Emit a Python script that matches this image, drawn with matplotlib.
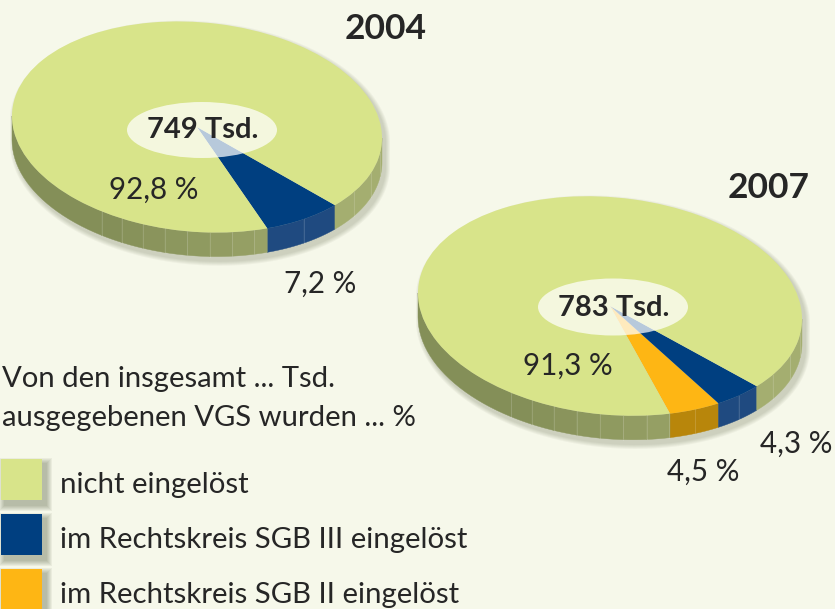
import numpy as np
import matplotlib
matplotlib.use("Agg")
import matplotlib.pyplot as plt
from matplotlib.patches import Ellipse, Rectangle, Polygon
from matplotlib.transforms import Affine2D

# data
shares_2004 = [7.2, 92.8]
shares_2007 = [4.5, 4.3, 91.3]
labels_2004 = ["7,2 %", "92,8 %"]
labels_2007 = ["4,5 %", "4,3 %", "91,3 %"]
total_2004 = "749 Tsd."
total_2007 = "783 Tsd."
legend_labels = ["nicht eingelöst", "im Rechtskreis SGB III eingelöst",
                 "im Rechtskreis SGB II eingelöst"]
intro_lines = ["Von den insgesamt ... Tsd.", "ausgegebenen VGS wurden ... %"]

W, H = 835, 609
BG = "#f6f8ea"
GREEN, BLUE, ORANGE = "#d8e48a", "#003f80", "#feb614"
WALL = {GREEN: None, BLUE: "#1f4a80", ORANGE: "#b8860b"}
INK = "#262626"
FONT = "Lato"

plt.rcParams["font.family"] = [FONT, "DejaVu Sans"]
fig = plt.figure(figsize=(W / 100, H / 100), dpi=100, facecolor=BG)
PAD = 1.35


def green_wall(angle):
    # wall gets lighter toward the right
    a = np.array([0x84, 0x8f, 0x58])
    b = np.array([0xa4, 0xae, 0x70])
    c = a + (b - a) * np.clip((angle + 122) / 80, 0, 1)
    return "#%02x%02x%02x" % tuple(int(v) for v in c)


def wall_edges(lo, hi, col):
    if col != GREEN:
        return np.linspace(lo, hi, 3)
    # the far left of the wall is one smooth piece, facets start further round
    inner = np.r_[np.arange(-121, -60, 7.0), np.arange(-32, 0, 12.0)]
    inner = inner[(inner > lo) & (inner < hi)]
    return np.r_[lo, inner, hi]


def draw_pie(cx, cy, rx, ry, tilt, depth, shares, colors, start, hub):
    ax = fig.add_axes([(cx - rx * PAD) / W, 1 - (cy + ry * PAD) / H,
                       2 * rx * PAD / W, 2 * ry * PAD / H])
    ax.patch.set_alpha(0)
    d = depth / ry
    # the disc is slightly rotated in the picture: low on the right
    shear = Affine2D.from_values(1, -tilt / ry, 0, 1, 0, 0)
    tr = shear + ax.transData

    # shadow, stacked translucent outlines of disc plus wall
    t = np.radians(np.linspace(-180, 180, 181))
    for g in [5, 4, 3, 2, 1]:
        sx = 1 + g / rx
        sy = 1 + g / ry
        yy = np.where(t < 0, np.sin(t) * sy - d, np.sin(t) * sy)
        pts = np.c_[np.cos(t) * sx + 3 / rx, yy - 4 / ry]
        ax.add_patch(Polygon(pts, closed=True, fc="#4e5438", ec="none", alpha=0.05,
                             zorder=0, transform=tr, clip_on=False))

    wedges, _ = ax.pie(shares, colors=colors, startangle=start, radius=1,
                       wedgeprops=dict(linewidth=0), normalize=True)
    for w in wedges:
        w.set_zorder(3)
        w.set_clip_on(False)
        w.set_transform(tr)

    # side wall, only front half is visible
    for w, col in zip(wedges, colors):
        a0, a1 = w.theta1, w.theta2
        for lo, hi in [(a0, a1), (a0 - 360, a1 - 360)]:
            lo, hi = max(lo, -180), min(hi, 0)
            if hi <= lo:
                continue
            edges = wall_edges(lo, hi, col)
            for e0, e1 in zip(edges[:-1], edges[1:]):
                th = np.radians(np.linspace(e0, e1, 24))
                x, y = np.cos(th), np.sin(th)
                pts = np.r_[np.c_[x, y], np.c_[x[::-1], y[::-1] - d]]
                fc = WALL[col] or green_wall(e0)
                ax.add_patch(Polygon(pts, closed=True, fc=fc, ec=fc, lw=0.3, zorder=2,
                                     transform=tr, clip_on=False))
                # thin light seam between facets
                if e1 < hi:
                    ax.plot([x[-1], x[-1]], [y[-1], y[-1] - d], color="white", alpha=0.15,
                            lw=0.7, zorder=2.5, transform=tr)

    hx, hy, hw, hh = hub
    ax.add_patch(Ellipse(((hx - cx) / rx, (cy - hy) / ry), hw / rx, hh / ry,
                         fc="white", ec="none", alpha=0.72, zorder=4))
    ax.set_aspect("auto")
    ax.set_xlim(-PAD, PAD)
    ax.set_ylim(-PAD, PAD)
    ax.axis("off")
    return ax


def put(x, y, s, size, weight="normal", ha="center"):
    fig.text(x / W, 1 - y / H, s, fontsize=size, fontweight=weight, color=INK,
             ha=ha, va="center", zorder=10)


draw_pie(197, 127, 185, 105, 11, 24, shares_2004, [BLUE, GREEN], -67.7, (202, 130, 150, 56))
draw_pie(610, 306, 192, 109, 13, 24, shares_2007, [ORANGE, BLUE, GREEN], -71.8, (613, 307, 150, 57))

put(386, 29, "2004", 25.5, "bold")
put(769, 188, "2007", 25.5, "bold")
put(203, 130, total_2004, 21, "bold")
put(614, 308, total_2007, 21, "bold")

put(320, 284, labels_2004[0], 21.3)
put(154, 190, labels_2004[1], 21.3)
put(703, 472, labels_2007[0], 21.3)
put(796, 444, labels_2007[1], 21.3)
put(568, 366, labels_2007[2], 21.3)

put(2, 379, intro_lines[0], 21.1, ha="left")
put(2, 418, intro_lines[1], 21.1, ha="left")

# legend, full figure overlay in pixel coordinates
lax = fig.add_axes([0, 0, 1, 1], zorder=-1)
lax.set_xlim(0, W)
lax.set_ylim(H, 0)
lax.axis("off")
for y, col, lab in zip([459, 514, 569], [GREEN, BLUE, ORANGE], legend_labels):
    for g in [6, 5, 4, 3, 2, 1]:
        lax.add_patch(Rectangle((5 - g, y + 5 - g), 41 + 2 * g, 41 + 2 * g,
                                fc="#4e5438", ec="none", alpha=0.07))
    lax.add_patch(Rectangle((1, y), 41, 41, fc=col, ec="none"))
    put(60, y + 26, lab, 21.2, ha="left")

fig.savefig("out.png", dpi=100, facecolor=BG)
